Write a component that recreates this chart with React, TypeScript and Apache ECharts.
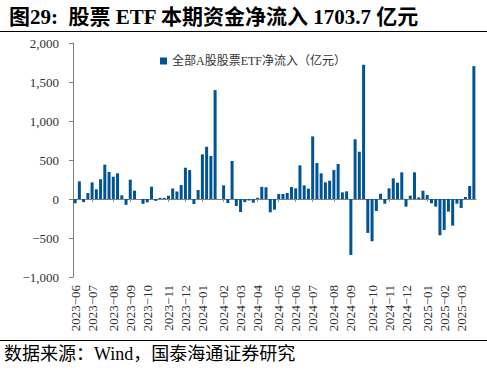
import React, { useEffect, useRef } from "react";
import * as echarts from "echarts";

const dates: string[] = [
  "2023-06-02", "2023-06-09", "2023-06-16", "2023-06-23", "2023-06-30",
  "2023-07-07", "2023-07-14", "2023-07-21", "2023-07-28",
  "2023-08-04", "2023-08-11", "2023-08-18", "2023-08-25",
  "2023-09-01", "2023-09-08", "2023-09-15", "2023-09-22", "2023-09-29",
  "2023-10-06", "2023-10-13", "2023-10-20", "2023-10-27",
  "2023-11-03", "2023-11-10", "2023-11-17", "2023-11-24",
  "2023-12-01", "2023-12-08", "2023-12-15", "2023-12-22", "2023-12-29",
  "2024-01-05", "2024-01-12", "2024-01-19", "2024-01-26",
  "2024-02-02", "2024-02-09", "2024-02-16", "2024-02-23",
  "2024-03-01", "2024-03-08", "2024-03-15", "2024-03-22", "2024-03-29",
  "2024-04-05", "2024-04-12", "2024-04-19", "2024-04-26",
  "2024-05-03", "2024-05-10", "2024-05-17", "2024-05-24", "2024-05-31",
  "2024-06-07", "2024-06-14", "2024-06-21", "2024-06-28",
  "2024-07-05", "2024-07-12", "2024-07-19", "2024-07-26",
  "2024-08-02", "2024-08-09", "2024-08-16", "2024-08-23", "2024-08-30",
  "2024-09-06", "2024-09-13", "2024-09-20", "2024-09-27",
  "2024-10-04", "2024-10-11", "2024-10-18", "2024-10-25",
  "2024-11-01", "2024-11-08", "2024-11-15", "2024-11-22", "2024-11-29",
  "2024-12-06", "2024-12-13", "2024-12-20", "2024-12-27",
  "2025-01-03", "2025-01-10", "2025-01-17", "2025-01-24", "2025-01-31",
  "2025-02-07", "2025-02-14", "2025-02-21", "2025-02-28",
  "2025-03-07", "2025-03-14", "2025-03-21",
];

const netInflow: number[] = [
  -55, 226, -40, 77, 213, 124, 254, 440, 346, 286,
  329, 47, -75, 248, 107, 0, -62, -43, 158, -24,
  15, 14, 42, 135, 96, 179, 401, 371, -64, 115,
  572, 670, 551, 1396, 0, 175, -51, 487, -90, -167,
  -40, -19, -47, 15, 156, 150, -171, -137, 64, 64,
  77, 154, 137, 431, 175, 132, 803, 461, 329, 213,
  235, 371, 448, 85, 98, -717, 766, 606, 1721, -435,
  -542, -154, 68, -60, 137, 265, 209, 342, -98, 43,
  342, 21, 107, 51, -55, -98, -465, -397, -162, -342,
  -60, -115, 26, 167, 1703.7,
];

const monthLabels: string[] = [
  "2023-06", "2023-07", "2023-08", "2023-09", "2023-10", "2023-11", "2023-12",
  "2024-01", "2024-02", "2024-03", "2024-04", "2024-05", "2024-06", "2024-07",
  "2024-08", "2024-09", "2024-10", "2024-11", "2024-12",
  "2025-01", "2025-02", "2025-03",
];

const seriesName = "全部A股股票ETF净流入（亿元）";
const titleText = "图29:  股票 ETF 本期资金净流入 1703.7 亿元";
const sourceText = "数据来源：Wind，国泰海通证券研究";

const SERIF = "'Liberation Serif', 'Noto Sans CJK SC', serif";

function buildLabelMap(): Map<number, string> {
  const map = new Map<number, string>();
  const times = dates.map((d) => Date.parse(d));
  monthLabels.forEach((m) => {
    const t = Date.parse(m + "-01");
    let best = 0;
    let bd = Infinity;
    times.forEach((tt, i) => {
      const d = Math.abs(tt - t);
      if (d < bd) {
        bd = d;
        best = i;
      }
    });
    map.set(best, m);
  });
  return map;
}

export default function App() {
  const ref = useRef<HTMLDivElement>(null);

  useEffect(() => {
    document.body.style.margin = "0";
    if (!ref.current) return;
    const chart = echarts.init(ref.current, null, { renderer: "svg" });
    const labelMap = buildLabelMap();
    const showIdx = (i: number) => labelMap.has(i);

    chart.setOption({
      animation: false,
      backgroundColor: "#ffffff",
      title: {
        text: titleText,
        left: 4,
        top: 1,
        textStyle: {
          fontFamily: SERIF,
          fontWeight: "bold",
          fontSize: 21,
          color: "#000",
        },
      },
      legend: {
        data: [seriesName],
        left: 155,
        top: 50,
        icon: "rect",
        itemWidth: 7,
        itemHeight: 7,
        itemGap: 4,
        textStyle: { fontFamily: SERIF, fontSize: 12, color: "#333" },
      },
      grid: { left: 73, right: 11, top: 43, bottom: 95, containLabel: false },
      xAxis: [
        {
          type: "category",
          data: dates,
          position: "bottom",
          axisLine: { show: false, onZero: false },
          axisTick: { show: false },
          axisLabel: {
            interval: (i: number) => showIdx(i),
            formatter: (_v: string, i: number) => (labelMap.get(i) || "").replace("-", "−"),
            rotate: 90,
            margin: 8,
            fontFamily: SERIF,
            fontSize: 13,
            color: "#333",
          },
          splitLine: { show: false },
        },
        {
          type: "category",
          data: dates,
          position: "bottom",
          axisLine: { show: true, onZero: true, lineStyle: { color: "#808080", width: 1 } },
          axisTick: {
            show: true,
            alignWithLabel: true,
            interval: (i: number) => showIdx(i),
            length: 3,
            lineStyle: { color: "#999" },
          },
          axisLabel: { show: false },
          splitLine: { show: false },
        },
      ],
      yAxis: {
        type: "value",
        min: -1000,
        max: 2000,
        interval: 500,
        axisLine: { show: true, lineStyle: { color: "#808080", width: 1 } },
        axisTick: { show: true, length: 4, lineStyle: { color: "#808080" } },
        splitLine: { show: false },
        axisLabel: {
          margin: 14,
          fontFamily: SERIF,
          fontSize: 13,
          color: "#333",
          formatter: (v: number) => {
            const s = Math.abs(v).toLocaleString("en-US");
            return v < 0 ? "−" + s : s;
          },
        },
      },
      series: [
        {
          name: seriesName,
          type: "bar",
          xAxisIndex: 0,
          data: netInflow,
          barWidth: 3,
          itemStyle: { color: "#005496" },
        },
      ],
      graphic: [
        {
          type: "line",
          shape: { x1: 0, y1: 31.5, x2: 487, y2: 31.5 },
          style: { stroke: "#000", lineWidth: 1 },
        },
        {
          type: "line",
          shape: { x1: 0, y1: 340.5, x2: 487, y2: 340.5 },
          style: { stroke: "#000", lineWidth: 1 },
        },
        {
          type: "text",
          left: 4,
          top: 345,
          style: {
            text: sourceText,
            fontFamily: SERIF,
            fontSize: 18,
            fill: "#000",
          },
        },
      ],
    });

    return () => {
      chart.dispose();
    };
  }, []);

  return <div ref={ref} style={{ width: 487, height: 372 }} />;
}
